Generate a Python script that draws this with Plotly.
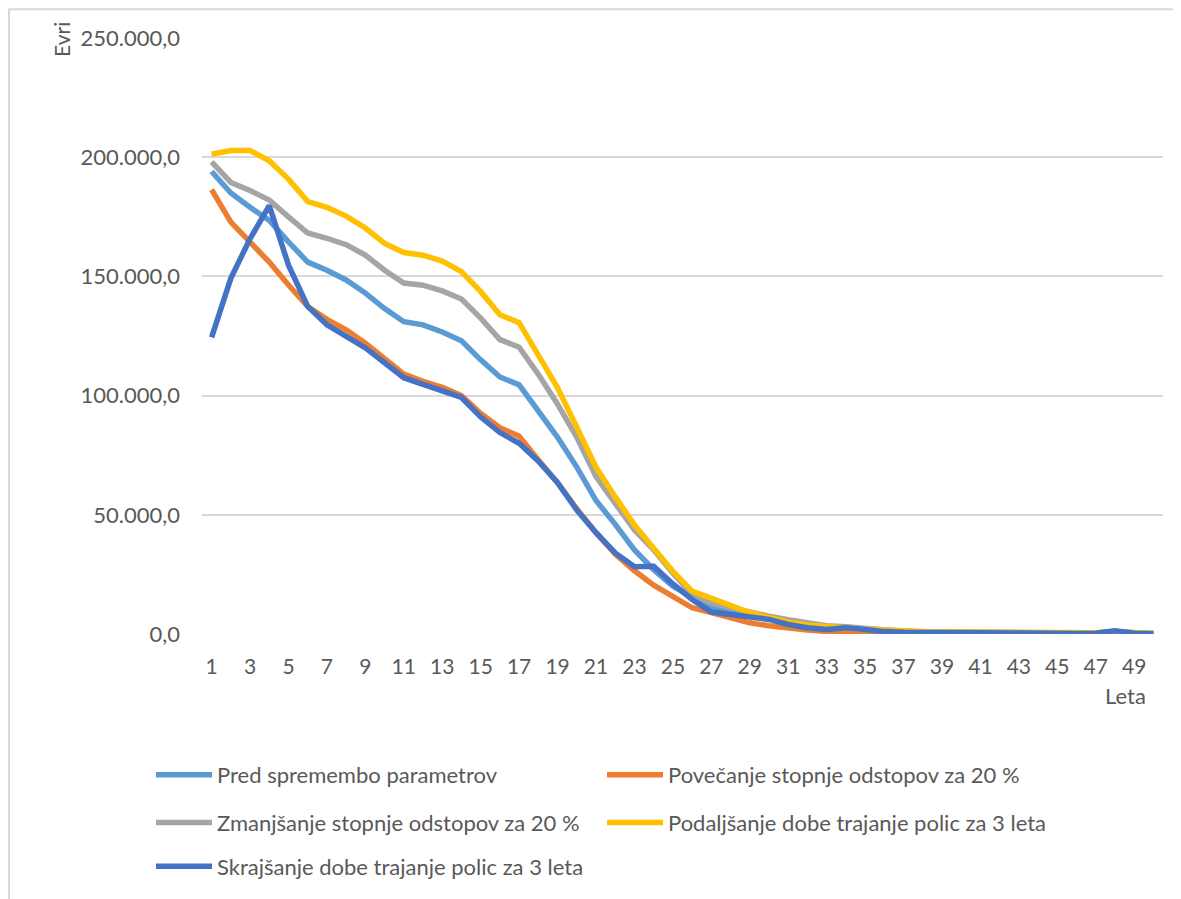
import plotly.graph_objects as go

years = list(range(1, 51))
tick_years = list(range(1, 50, 2))

pred = [194, 185, 179, 173.5, 164.5, 156, 152.6, 148.5, 143, 136.5,
        131, 129.7, 126.7, 123, 115, 107.8, 104.5, 93.6, 82.5, 70,
        56, 46, 35.3, 27, 20, 15.5, 11, 9.5, 8.5, 7,
        5.5, 4, 3, 2.5, 2, 1.5, 1, 0.8, 0.7, 0.6,
        0.5, 0.4, 0.3, 0.3, 0.3, 0.3, 0.3, 0.8, 0.2, 0.1]
povecanje = [186.4, 172.8, 164.4, 156, 146.4, 137.4, 132, 127.6, 122, 115.5,
             109, 106, 103.5, 100, 92.5, 86.5, 83, 73, 63.5, 52.5,
             42.5, 33.5, 26.5, 20.5, 16, 11, 9, 6.8, 4.7, 3.5,
             2.5, 1.7, 1.1, 0.8, 0.6, 0.5, 0.4, 0.3, 0.3, 0.3,
             0.3, 0.2, 0.2, 0.2, 0.2, 0.2, 0.2, 0.5, 0.1, 0.0]
zmanjsanje = [198, 189.4, 186, 182, 175, 168.2, 166, 163.3, 158.9, 152.6,
              147.2, 146.3, 143.9, 140.5, 132.5, 123.5, 120.3, 108.9, 96.4, 82.5,
              66, 54.5, 43.6, 35.3, 25.5, 16.7, 13, 11, 9, 7.5,
              6, 4.5, 3.5, 3, 2.2, 1.5, 1.1, 0.9, 0.8, 0.7,
              0.6, 0.5, 0.4, 0.4, 0.4, 0.4, 0.4, 1.0, 0.3, 0.1]
podaljsanje = [201.3, 202.8, 202.8, 198.5, 190.8, 181.4, 179, 175.3, 170.3, 163.8,
               160, 158.9, 156.4, 152, 143.6, 133.9, 130.6, 117.2, 103.3, 86.7,
               70, 57.5, 45.7, 36, 26.3, 18, 15.1, 12, 9, 7,
               5, 3.8, 3, 2.5, 2, 1.5, 1.2, 1, 0.9, 0.8,
               0.7, 0.6, 0.5, 0.5, 0.5, 0.5, 0.5, 1.0, 0.4, 0.2]
skrajsanje = [124.4, 149.2, 165.8, 179.7, 154.7, 137.4, 129.7, 125, 120, 113.8,
              107.5, 104.7, 102.2, 99.2, 91, 84.5, 80, 72.5, 63.5, 52,
              42.5, 34, 28.2, 28.4, 21, 14.5, 9.2, 8.2, 7.5, 6.1,
              4, 2.6, 1.9, 2.6, 1.9, 1, 0.7, 0.6, 0.6, 0.6,
              0.6, 0.3, 0.2, 0.2, 0.2, 0.2, 0.3, 1.4, 0.3, 0.2]

series = [
    ("Pred spremembo parametrov", pred, "#5B9BD5", "legend"),
    ("Povečanje stopnje odstopov za 20 %", povecanje, "#ED7D31", "legend"),
    ("Zmanjšanje stopnje odstopov za 20 %", zmanjsanje, "#A5A5A5", "legend2"),
    ("Podaljšanje dobe trajanje polic za 3 leta", podaljsanje, "#FFC000", "legend2"),
    ("Skrajšanje dobe trajanje polic za 3 leta", skrajsanje, "#4472C4", "legend3"),
]

FONT = "Lato, 'Open Sans', sans-serif"
TXT = "#595959"

fig = go.Figure()
for name, vals, color, leg in series:
    fig.add_trace(go.Scatter(
        x=years, y=[v * 1000 for v in vals], name=name, mode="lines",
        line=dict(color=color, width=5.5), legend=leg))

# page is rendered with an 8px body margin; work in page pixels
OFF = 8
W, H = 1181 - OFF, 899 - OFF
PL, PR, PT, PB = 202, 1163, 38, 638  # plot area in page pixels
L, T = PL - OFF, PT - OFF
R = W - (PR - OFF)
B = H - (PB - OFF)
pw, ph = PR - PL, PB - PT

def px_x(p):
    return (p - PL) / pw

def px_y(p):
    return (PB - p) / ph

IW = 56
legend_common = dict(orientation="h", entrywidth=449 - IW - 13, entrywidthmode="pixels",
                     font=dict(family=FONT, size=22, color=TXT),
                     bgcolor="rgba(0,0,0,0)", xanchor="left", yanchor="middle",
                     itemwidth=IW, traceorder="normal")

fig.update_layout(
    width=W, height=H,
    margin=dict(l=L, r=R, t=T, b=B),
    paper_bgcolor="white", plot_bgcolor="white",
    separators=",.",
    font=dict(family=FONT, size=22, color=TXT),
    showlegend=True,
    legend=dict(x=px_x(151), y=px_y(780), **legend_common),
    legend2=dict(x=px_x(151), y=px_y(828), **legend_common),
    legend3=dict(x=px_x(151), y=px_y(872), **legend_common),
    xaxis=dict(range=[0.5, 50.5], tickmode="array", tickvals=tick_years,
               ticktext=[str(t) for t in tick_years], showgrid=False,
               zeroline=False, showline=False, ticks="",
               ticklabelstandoff=18,
               tickfont=dict(family=FONT, size=21, color=TXT)),
    yaxis=dict(range=[0, 250000], tickmode="linear", dtick=50000, tick0=0,
               tickformat=",.1f", showgrid=True, gridcolor="#D9D9D9",
               gridwidth=2, zeroline=False, showline=False, ticks="",
               ticklabelstandoff=21,
               tickfont=dict(family=FONT, size=22, color=TXT)),
)

fig.add_annotation(text="Evri", xref="paper", yref="paper",
                   x=px_x(62), y=px_y(40), textangle=-90, showarrow=False,
                   xanchor="center", yanchor="middle",
                   font=dict(family=FONT, size=21, color=TXT))
fig.add_annotation(text="Leta", xref="paper", yref="paper",
                   x=px_x(1125), y=px_y(700), showarrow=False,
                   xanchor="center", yanchor="middle",
                   font=dict(family=FONT, size=22, color=TXT))

fig.add_shape(type="rect", xref="paper", yref="paper",
              x0=px_x(9), x1=px_x(1200), y0=px_y(9), y1=px_y(920),
              line=dict(color="#D9D9D9", width=2), layer="below")

fig.write_html("out.html")
